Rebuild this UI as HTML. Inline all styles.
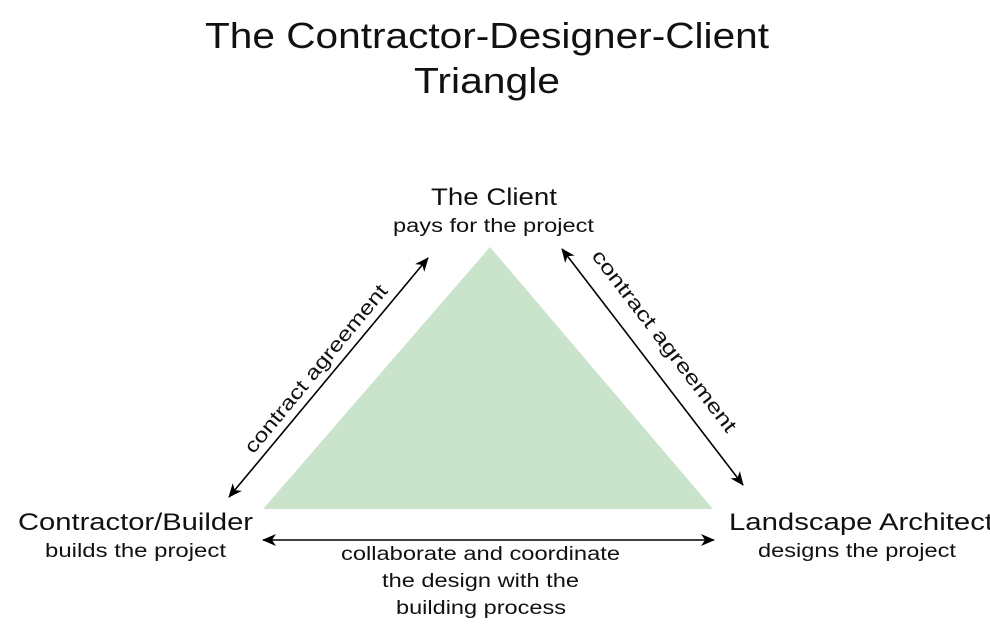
<!DOCTYPE html>
<html><head><meta charset="utf-8"><style>
body{margin:0;width:990px;height:640px;overflow:hidden;background:#fff;font-family:"Liberation Sans",sans-serif;color:#111;}
</style></head><body>
<svg width="990" height="640" xmlns="http://www.w3.org/2000/svg" style="position:absolute;left:0;top:0">
<defs><marker id="a" markerWidth="14" markerHeight="12" refX="13" refY="6" orient="auto-start-reverse" markerUnits="userSpaceOnUse"><path d="M0,0 L14,6 L0,12 L4,6 Z" fill="#000"/></marker></defs>
<polygon points="490,247 263,509 713,509" fill="#cae3cb"/>
<g font-family="Liberation Sans, sans-serif" fill="#111" lengthAdjust="spacingAndGlyphs">
<text x="205" y="48" font-size="36" textLength="564" lengthAdjust="spacingAndGlyphs">The Contractor-Designer-Client</text>
<text x="414" y="93" font-size="36" textLength="146" lengthAdjust="spacingAndGlyphs">Triangle</text>
<text x="431" y="205" font-size="24" textLength="126" lengthAdjust="spacingAndGlyphs">The Client</text>
<text x="393" y="232" font-size="19" textLength="201" lengthAdjust="spacingAndGlyphs">pays for the project</text>
<text x="18" y="530" font-size="24" textLength="235" lengthAdjust="spacingAndGlyphs">Contractor/Builder</text>
<text x="45" y="557" font-size="19" textLength="181" lengthAdjust="spacingAndGlyphs">builds the project</text>
<text x="729" y="530" font-size="24" textLength="264" lengthAdjust="spacingAndGlyphs">Landscape Architect</text>
<text x="758" y="557" font-size="19" textLength="198" lengthAdjust="spacingAndGlyphs">designs the project</text>
<text x="341" y="560" font-size="19" textLength="279" lengthAdjust="spacingAndGlyphs">collaborate and coordinate</text>
<text x="382" y="587" font-size="19" textLength="197" lengthAdjust="spacingAndGlyphs">the design with the</text>
<text x="396" y="614" font-size="19" textLength="170" lengthAdjust="spacingAndGlyphs">building process</text>
<text transform="translate(321,373) rotate(-50.4)" x="-106" font-size="20" textLength="212" lengthAdjust="spacingAndGlyphs">contract agreement</text>
<text transform="translate(659,345) rotate(52.5)" x="-112" font-size="20" textLength="224" lengthAdjust="spacingAndGlyphs">contract agreement</text>
</g>
<g stroke="#000" stroke-width="1.6" fill="none">
<line x1="229" y1="497" x2="428" y2="258" marker-start="url(#a)" marker-end="url(#a)"/>
<line x1="562" y1="249" x2="743" y2="485" marker-start="url(#a)" marker-end="url(#a)"/>
<line x1="263" y1="540" x2="714" y2="540" marker-start="url(#a)" marker-end="url(#a)"/>
</g>
</svg>
</body></html>
